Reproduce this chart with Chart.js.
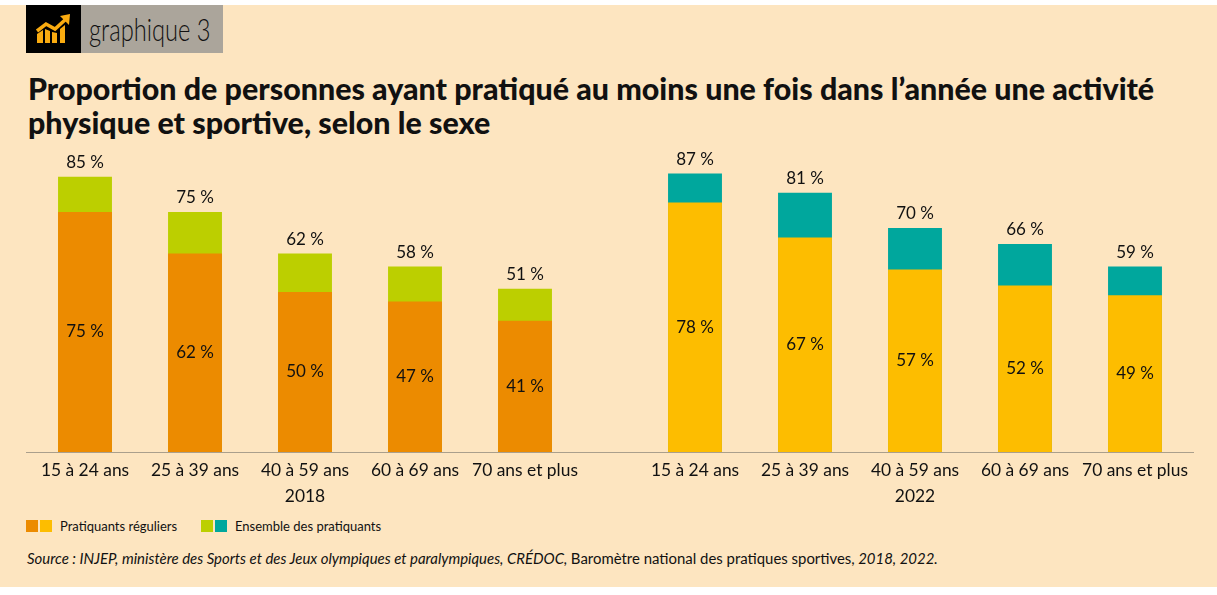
<!DOCTYPE html>
<html lang="fr">
<head>
<meta charset="utf-8">
<title>graphique 3</title>
<script src="https://cdn.jsdelivr.net/npm/chart.js@4/dist/chart.umd.min.js"></script>
<style>
  html, body { margin: 0; padding: 0; background: #fff; }
  #page { position: relative; width: 1217px; height: 587px; top: 5px; background: #fde5c0; overflow: hidden; color: #111; font-family: Lato, sans-serif; }
  #badge-icon { position: absolute; left: 26px; top: 0; width: 55px; height: 48px; background: #000; }
  #badge-text { position: absolute; left: 81px; top: 0; width: 142px; height: 48px; background: #aba59b; font-weight: 300; font-size: 32px; line-height: 48px; }
  #badge-text span { display: inline-block; margin-left: 8px; transform: scaleX(0.74); transform-origin: left center; white-space: nowrap; }
  #title { position: absolute; left: 28px; top: 66px; margin: 0; font-size: 30.4px; line-height: 34px; font-weight: 900; width: 1180px; }
  canvas { position: absolute; }
  #chart-2018 { left: 26px; top: 115px; }
  #chart-2022 { left: 610px; top: 115px; }
  #legend { position: absolute; left: 26px; top: 514px; font-size: 13px; height: 14px; line-height: 14px; }
  #legend i { position: absolute; top: 1px; width: 12px; height: 12px; }
  #legend span { position: absolute; top: 0; white-space: nowrap; }
  #source { position: absolute; left: 27px; top: 544px; font-size: 14.93px; font-style: italic; white-space: nowrap; }
  #source b { font-weight: normal; font-style: normal; }
</style>
</head>
<body>
<div id="page">
  <div id="badge-icon">
    <svg width="55" height="48" viewBox="0 0 55 48">
      <path d="M11 38 V29 L17 25 V38 Z M19 38 V24 L24 26 V38 Z M26 38 V27 L31 28 V38 Z M34 38 V24 L39 20 V38 Z" fill="#f9ab10"/>
      <path d="M11 26 L20 19 L29 24 L40 14" fill="none" stroke="#f9ab10" stroke-width="3.5"/>
      <path d="M34 11 L44 9 L43 20 Z" fill="#f9ab10"/>
    </svg>
  </div>
  <div id="badge-text"><span>graphique 3</span></div>
  <h1 id="title">Proportion de personnes ayant pratiqué au moins une fois dans l’année une activité<br>physique et sportive, selon le sexe</h1>
  <canvas id="chart-2018" width="584" height="387"></canvas>
  <canvas id="chart-2022" width="584" height="387"></canvas>
  <div id="legend">
    <i style="left:0;background:#ec8b00"></i><i style="left:14px;background:#fdbd00"></i><span style="left:34px">Pratiquants réguliers</span>
    <i style="left:175px;background:#bccf00"></i><i style="left:189px;background:#00a79d"></i><span style="left:209px">Ensemble des pratiquants</span>
  </div>
  <div id="source">Source : INJEP, ministère des Sports et des Jeux olympiques et paralympiques, CRÉDOC, <b>Baromètre national des pratiques sportives,</b> 2018, 2022.</div>
</div>

<script>
const ageGroups = ["15 à 24 ans", "25 à 39 ans", "40 à 59 ans", "60 à 69 ans", "70 ans et plus"];

const regular2018 = [75, 62, 50, 47, 41];
const regular2022 = [78, 67, 57, 52, 49];
// drawn bar heights, a few differ by 1 from their printed label
const total2018 = [86, 75, 62, 58, 51];
const total2022 = [87, 81, 70, 65, 58];
const totalLabels2018 = [85, 75, 62, 58, 51];
const totalLabels2022 = [87, 81, 70, 66, 59];

const labelFont = "17px Lato, sans-serif";
const textColor = "#111";

// prints the % labels: dataset 0 in the middle of the bar, dataset 1 over the top
const barLabels = {
    id: "barLabels",
    afterDatasetsDraw(chart, args, opts) {
        const ctx = chart.ctx;
        ctx.save();
        ctx.font = labelFont;
        ctx.fillStyle = textColor;
        ctx.textAlign = "center";
        ctx.textBaseline = "middle";
        chart.getDatasetMeta(0).data.forEach((bar, i) => {
            ctx.fillText(chart.data.datasets[0].data[i] + "\u202f%", bar.x, (bar.y + bar.base) / 2);
        });
        chart.getDatasetMeta(1).data.forEach((bar, i) => {
            ctx.fillText(opts.totals[i] + "\u202f%", bar.x, bar.y - 14);
        });
        ctx.restore();
    }
};

// baseline runs across the whole canvas, not only the plot area
const baseLine = {
    id: "baseLine",
    afterDatasetsDraw(chart) {
        const y = Math.round(chart.scales.y.getPixelForValue(0)) + 0.5;
        const ctx = chart.ctx;
        ctx.save();
        ctx.strokeStyle = "#aa9f8c";
        ctx.lineWidth = 1;
        ctx.beginPath();
        ctx.moveTo(0, y);
        ctx.lineTo(chart.width, y);
        ctx.stroke();
        ctx.restore();
    }
};

function drawChart(elementId, year, regular, total, totalLabels, regularColor, totalColor, padLeft, padRight) {
    const ctx = document.getElementById(elementId).getContext("2d");
    return new Chart(ctx, {
        type: "bar",
        data: {
            labels: ageGroups,
            datasets: [
                { label: "Pratiquants réguliers", data: regular, backgroundColor: regularColor, order: 1 },
                { label: "Ensemble des pratiquants", data: total, backgroundColor: totalColor, order: 2 }
            ]
        },
        options: {
            responsive: false,
            animation: false,
            layout: { padding: { top: 12, left: padLeft, right: padRight, bottom: 0 } },
            datasets: { bar: { grouped: false, barPercentage: 0.49, categoryPercentage: 1 } },
            plugins: {
                legend: { display: false },
                title: { display: false },
                tooltip: { enabled: false },
                barLabels: { totals: totalLabels }
            },
            scales: {
                x: {
                    grid: { display: false },
                    border: { display: false },
                    ticks: { color: textColor, font: { family: "Lato, sans-serif", size: 17.4 }, maxRotation: 0, autoSkip: false, padding: 0 },
                    title: { display: true, text: year, color: textColor, font: { family: "Lato, sans-serif", size: 17.4 }, padding: 0 },
                    afterFit: function(scale) { scale.height = 55; }
                },
                y: { display: false, min: 0, max: 100 }
            }
        },
        plugins: [baseLine, barLabels]
    });
}

drawChart("chart-2018", "2018", regular2018, total2018, totalLabels2018, "#ec8b00", "#bccf00", 4, 30);
drawChart("chart-2022", "2022", regular2022, total2022, totalLabels2022, "#fdbd00", "#00a79d", 30, 4);
</script>
</body>
</html>
